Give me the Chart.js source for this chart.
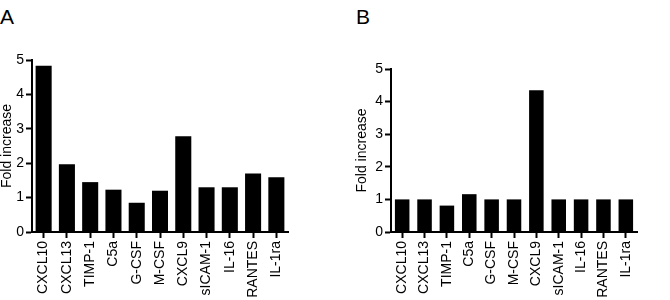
<!DOCTYPE html>
<html>
<head>
<meta charset="utf-8">
<script src="https://cdn.jsdelivr.net/npm/chart.js@4"></script>
<style>
  body { margin: 0; background: #fff; }
  #wrap { position: relative; width: 670px; height: 300px; font-family: "Liberation Sans", Arial, sans-serif; }
  .panel { position: absolute; top: 0; height: 300px; }
  .tag { position: absolute; font-size: 21px; color: #000; line-height: 1; }
</style>
</head>
<body>
<div id="wrap">
  <div class="tag" style="left:0px; top:6px;">A</div>
  <div class="tag" style="left:356px; top:6px;">B</div>
  <div class="panel" style="left:0; width:300px;"><canvas id="chartA" width="300" height="300"></canvas></div>
  <div class="panel" style="left:335px; width:335px;"><canvas id="chartB" width="335" height="300"></canvas></div>
</div>
<script>
// cytokines on the x axis, same order in both panels
const categories = ['CXCL10', 'CXCL13', 'TIMP-1', 'C5a', 'G-CSF', 'M-CSF', 'CXCL9', 'sICAM-1', 'IL-16', 'RANTES', 'IL-1ra'];
// fold increase, panel A and panel B
const foldA = [4.83, 1.97, 1.45, 1.23, 0.85, 1.2, 2.78, 1.3, 1.3, 1.7, 1.59];
const foldB = [1.0, 1.0, 0.81, 1.16, 1.0, 1.0, 4.35, 1.0, 1.0, 1.0, 1.0];
const yMin = 0, yMax = 5, yStep = 1;

Chart.defaults.font.family = '"Liberation Sans", Arial, sans-serif';
Chart.defaults.color = '#000';

function makeChart(id, values, opts) {
    return new Chart(document.getElementById(id), {
        type: 'bar',
        data: {
            labels: categories,
            datasets: [{
                data: values,
                backgroundColor: '#000',
                borderWidth: 0,
                barPercentage: opts.barPct,
                categoryPercentage: 1
            }]
        },
        options: {
            responsive: false,
            animation: false,
            layout: { padding: opts.padding },
            plugins: { legend: { display: false }, tooltip: { enabled: false } },
            scales: {
                x: {
                    offset: true,
                    grid: { offset: false, drawOnChartArea: false, tickLength: 6, tickWidth: 2, tickColor: '#000' },
                    border: { display: true, color: '#000', width: 2 },
                    ticks: { minRotation: 90, maxRotation: 90, autoSkip: false, padding: 3, font: { size: 14 }, color: '#000' },
                    afterFit: s => { s.height = 68; }
                },
                y: {
                    min: yMin,
                    max: yMax,
                    grid: { drawOnChartArea: false, tickLength: 6, tickWidth: 2, tickColor: '#000' },
                    border: { display: true, color: '#000', width: 2 },
                    ticks: { stepSize: yStep, padding: 2, font: { size: 14 }, color: '#000' },
                    title: { display: true, text: 'Fold increase', font: { size: 14, lineHeight: 1 }, padding: 0, color: '#000' },
                    afterFit: s => { s.width = opts.yWidth; }
                }
            }
        }
    });
}

try {
    makeChart('chartA', foldA, { barPct: 0.69, yWidth: 32, padding: { left: 0, right: 12, top: 60, bottom: 0 } });
    makeChart('chartB', foldB, { barPct: 0.65, yWidth: 36, padding: { left: 20, right: 33, top: 69, bottom: 0 } });
} catch (err) {
    console.error('chart error:', err.message);
}
</script>
</body>
</html>
